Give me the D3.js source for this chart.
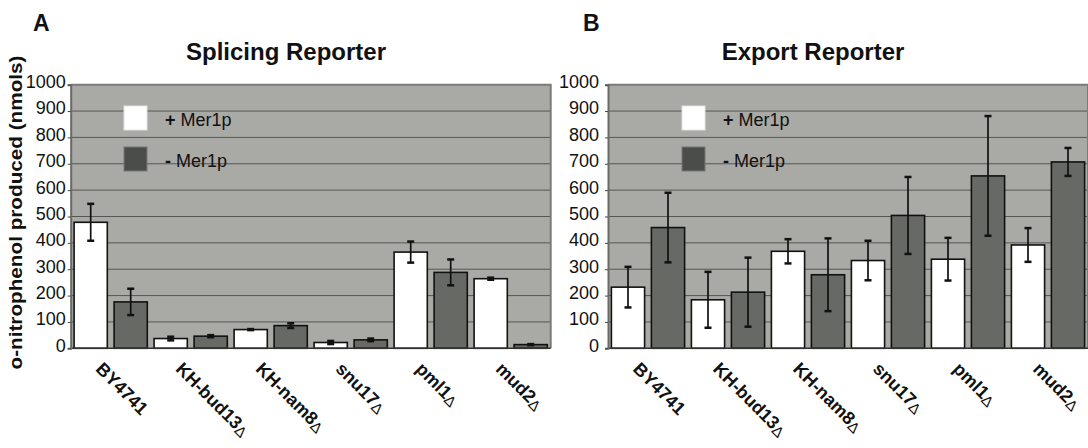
<!DOCTYPE html>
<html>
<head>
<meta charset="utf-8">
<script src="https://cdn.jsdelivr.net/npm/d3@7"></script>
<style>
  html, body { margin: 0; padding: 0; background: #fff; }
  svg { display: block; font-family: "Liberation Sans", Arial, sans-serif; }
</style>
</head>
<body>
<svg id="chart" width="1088" height="448"></svg>
<script>
// ── data ──
const strains = ["BY4741", "KH-bud13", "KH-nam8", "snu17", "pml1", "mud2"];
const hasDelta = [false, true, true, true, true, true];
const seriesKeys = ["plus", "minus"];
const seriesLabels = ["+ Mer1p", "- Mer1p"];

const splicingPlus = [478, 37, 71, 22, 365, 264];
const splicingPlusErr = [70, 7, 2, 6, 40, 4];
const splicingMinus = [176, 46, 86, 32, 288, 14];
const splicingMinusErr = [50, 4, 9, 5, 49, 2];

const exportPlus = [232, 184, 368, 333, 338, 392];
const exportPlusErr = [77, 106, 46, 75, 81, 64];
const exportMinus = [458, 213, 279, 504, 654, 707];
const exportMinusErr = [132, 131, 138, 146, 227, 53];

const yTicks = [0, 100, 200, 300, 400, 500, 600, 700, 800, 900, 1000];

const BG = '#a9aaa5', GRID = '#555753', DARK = '#676965', LEG_DARK = '#4b4d4b';

const svg = d3.select('#chart');

const panels = [
  { letter: 'A', title: 'Splicing Reporter', left: 70.7, plus: splicingPlus, plusErr: splicingPlusErr,
    minus: splicingMinus, minusErr: splicingMinusErr, titleX: 286, letterX: 33, labelGap: 5, legendX: 124, yLabel: true },
  { letter: 'B', title: 'Export Reporter', left: 608, plus: exportPlus, plusErr: exportPlusErr,
    minus: exportMinus, minusErr: exportMinusErr, titleX: 813, letterX: 583, labelGap: 9, legendX: 682, yLabel: false }
];

const plotTop = 84.7, plotBottom = 348.3, plotW = 480;

panels.forEach(p => drawPanel(p));

function drawPanel(p) {
  const y = d3.scaleLinear().domain([0, 1000]).range([plotBottom, plotTop]);
  const x0 = d3.scaleBand().domain(strains).range([p.left, p.left + plotW]).padding(0);
  const x1 = d3.scaleBand().domain(seriesKeys).range([0, x0.bandwidth()])
    .paddingInner(0.17).paddingOuter(0.085);

  const g = svg.append('g');

  // plot background
  g.append('rect').attr('x', p.left).attr('y', plotTop)
    .attr('width', plotW).attr('height', plotBottom - plotTop).attr('fill', BG);

  // gridlines
  g.selectAll('.grid').data(yTicks.filter(t => t > 0 && t < 1000)).join('line')
    .attr('x1', p.left).attr('x2', p.left + plotW)
    .attr('y1', d => y(d)).attr('y2', d => y(d))
    .attr('stroke', GRID).attr('stroke-width', 1);

  // bars
  const rows = strains.map((s, i) => ({
    strain: s,
    vals: [
      { key: 'plus', v: p.plus[i], e: p.plusErr[i] },
      { key: 'minus', v: p.minus[i], e: p.minusErr[i] }
    ]
  }));

  const grp = g.selectAll('.grp').data(rows).join('g')
    .attr('transform', d => `translate(${x0(d.strain)},0)`);

  grp.selectAll('rect').data(d => d.vals).join('rect')
    .attr('x', d => x1(d.key)).attr('width', x1.bandwidth())
    .attr('y', d => y(d.v)).attr('height', d => y(0) - y(d.v))
    .attr('fill', d => d.key === 'plus' ? '#ffffff' : DARK)
    .attr('stroke', '#111').attr('stroke-width', 1.6);

  // error bars
  const eb = grp.selectAll('.err').data(d => d.vals).join('g')
    .attr('transform', d => `translate(${x1(d.key) + x1.bandwidth() / 2},0)`);
  eb.append('line').attr('x1', 0).attr('x2', 0)
    .attr('y1', d => y(d.v - d.e)).attr('y2', d => y(d.v + d.e))
    .attr('stroke', '#111').attr('stroke-width', 1.7);
  eb.selectAll('.cap').data(d => [d.v - d.e, d.v + d.e]).join('line')
    .attr('x1', -3.5).attr('x2', 3.5)
    .attr('y1', d => y(d)).attr('y2', d => y(d))
    .attr('stroke', '#111').attr('stroke-width', 2.5);

  // frame: top & right in gray
  g.append('path')
    .attr('d', `M${p.left},${plotTop} H${p.left + plotW} V${plotBottom}`)
    .attr('fill', 'none').attr('stroke', '#7b7c79').attr('stroke-width', 2);
  g.append('line').attr('x1', p.left).attr('x2', p.left + plotW)
    .attr('y1', plotBottom).attr('y2', plotBottom).attr('stroke', '#333').attr('stroke-width', 1.5);

  // y axis
  const ax = g.append('g').attr('transform', `translate(${p.left},0)`)
    .call(d3.axisLeft(y).tickValues(yTicks).tickFormat(d3.format('d'))
      .tickSize(3).tickPadding(p.labelGap - 3));
  ax.select('.domain').attr('stroke', '#6a6b68').attr('stroke-width', 2);
  ax.selectAll('.tick line').attr('stroke', '#444');
  ax.selectAll('.tick text').attr('font-size', 18).attr('fill', '#111')
    .attr('font-family', '"Liberation Sans", Arial, sans-serif').attr('dy', '0.16em');

  // x labels, rotated
  const xl = g.selectAll('.xl').data(strains).join('text')
    .attr('transform', d => `translate(${x0(d) + x0.bandwidth() / 2 - 16},370) rotate(45)`)
    .attr('font-size', 18).attr('font-weight', 'bold').attr('fill', '#111');
  xl.append('tspan').text(d => d);
  xl.filter((d, i) => hasDelta[i]).append('tspan')
    .attr('font-weight', 'normal').attr('font-size', 15).attr('dy', 2).text('\u0394');

  // legend
  const lg = g.append('g');
  seriesLabels.forEach((lab, i) => {
    const yy = 106 + i * 41;
    lg.append('rect').attr('x', p.legendX).attr('y', yy).attr('width', 23).attr('height', 24)
      .attr('fill', i === 0 ? '#ffffff' : LEG_DARK)
      .attr('stroke', i === 0 ? '#e4e4e2' : '#777976').attr('stroke-width', 1);
    const t = lg.append('text').attr('x', p.legendX + 41).attr('y', yy + 20)
      .attr('font-size', 18).attr('fill', '#111');
    t.append('tspan').attr('font-weight', 'bold').text(lab.slice(0, 1));
    t.append('tspan').text(lab.slice(1));
  });

  // title + panel letter
  svg.append('text').attr('x', p.titleX).attr('y', 60).attr('text-anchor', 'middle')
    .attr('font-size', 24).attr('font-weight', 'bold').attr('fill', '#111').text(p.title);
  svg.append('text').attr('x', p.letterX).attr('y', 31)
    .attr('font-size', 23).attr('font-weight', 'bold').attr('fill', '#111').text(p.letter);

  if (p.yLabel) {
    svg.append('text')
      .attr('transform', `translate(22,${(plotTop + plotBottom) / 2 - 4}) rotate(-90)`)
      .attr('text-anchor', 'middle').attr('font-size', 18).attr('font-weight', 'bold')
      .attr('fill', '#111').attr('textLength', 314).attr('lengthAdjust', 'spacingAndGlyphs')
      .text('o-nitrophenol produced (nmols)');
  }
}
</script>
</body>
</html>
